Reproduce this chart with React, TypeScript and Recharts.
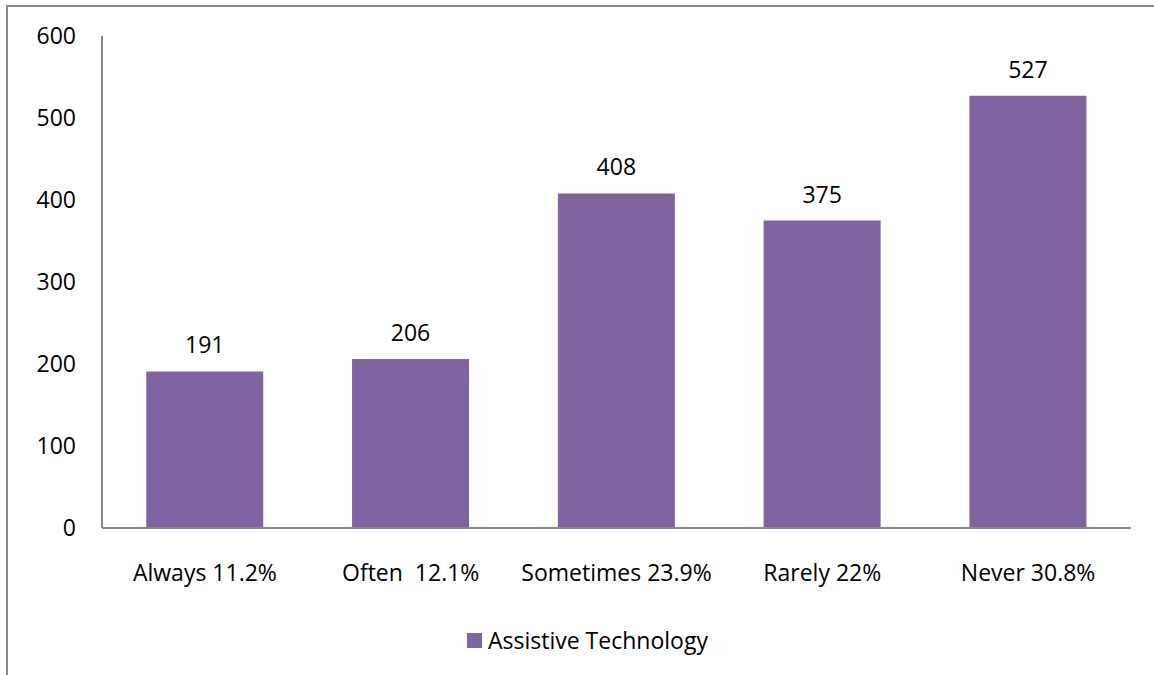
import { BarChart, Bar, XAxis, YAxis, Legend, LabelList } from 'recharts';

const categories = ['Always 11.2%', 'Often  12.1%', 'Sometimes 23.9%', 'Rarely 22%', 'Never 30.8%'];
const counts = [191, 206, 408, 375, 527];
const yTicks = [0, 100, 200, 300, 400, 500, 600];
const seriesName = 'Assistive Technology';

const FONT = '"Open Sans", sans-serif';
const PURPLE = '#8064A2';
const GREY = '#898989';

const data = categories.map((c, i) => ({ name: c, value: counts[i] }));

const XTick = (props: any) => {
  const { x, y, payload } = props;
  return (
    <text
      x={x}
      y={y}
      dy={53}
      textAnchor="middle"
      fill="#000"
      fontSize={23}
      fontFamily={FONT}
      style={{ whiteSpace: 'pre' }}
    >
      {payload.value}
    </text>
  );
};

const LegendBox = () => (
  <div style={{ display: 'flex', alignItems: 'center', fontFamily: FONT, fontSize: 23, color: '#000' }}>
    <span style={{ width: 15, height: 15, background: PURPLE, marginRight: 6, display: 'inline-block' }} />
    <span>{seriesName}</span>
  </div>
);

export default function App() {
  return (
    <div style={{ position: 'fixed', left: 0, top: 0, width: 1154, height: 675, overflow: 'hidden', background: '#fff' }}>
      <div
        style={{
          position: 'absolute',
          left: 6,
          top: 5,
          width: 1200,
          height: 720,
          borderLeft: `2px solid ${GREY}`,
          borderTop: `2px solid ${GREY}`,
        }}
      />
      <div style={{ position: 'absolute', left: 0, top: 0 }}>
        <BarChart
          width={1154}
          height={675}
          data={data}
          margin={{ top: 36, right: 23, bottom: 0, left: 0 }}
          barCategoryGap="21.5%"
        >
          <YAxis
            width={102}
            domain={[0, 600]}
            ticks={yTicks}
            interval={0}
            tickLine={false}
            tickSize={0}
            tickMargin={26}
            axisLine={{ stroke: GREY, strokeWidth: 2 }}
            tick={{ fill: '#000', fontSize: 23, fontFamily: FONT }}
          />
          <XAxis
            dataKey="name"
            height={147}
            interval={0}
            tickLine={false}
            tickSize={0}
            tickMargin={0}
            axisLine={{ stroke: GREY, strokeWidth: 2 }}
            tick={<XTick />}
          />
          <Legend
            layout="horizontal"
            verticalAlign="middle"
            align="center"
            wrapperStyle={{ left: 467, top: 624, width: 'auto' }}
            content={<LegendBox />}
          />
          <Bar dataKey="value" name={seriesName} fill={PURPLE} isAnimationActive={false}>
            <LabelList
              dataKey="value"
              position="top"
              offset={18}
              fill="#000"
              fontSize={23}
              fontFamily={FONT}
            />
          </Bar>
        </BarChart>
      </div>
    </div>
  );
}
